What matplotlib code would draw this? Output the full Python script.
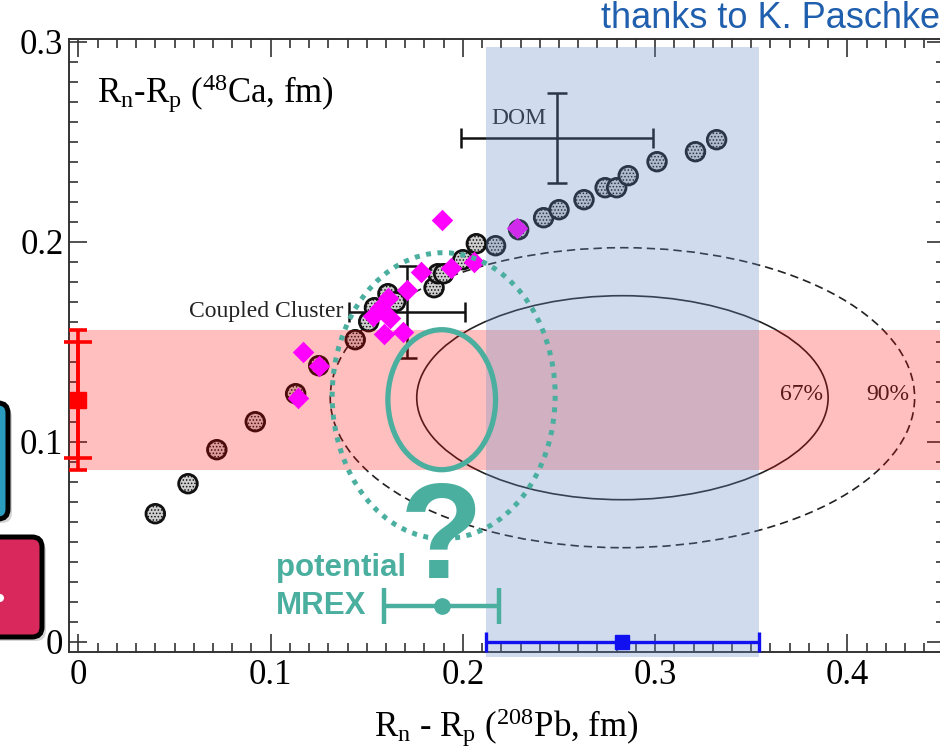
import numpy as np
import matplotlib.pyplot as plt
from matplotlib.patches import Ellipse, FancyBboxPatch, Circle
from matplotlib.ticker import MultipleLocator, FuncFormatter

plt.rcParams['font.family'] = 'Liberation Serif'
plt.rcParams['mathtext.fontset'] = 'custom'
plt.rcParams['mathtext.rm'] = 'Liberation Serif'
plt.rcParams['mathtext.it'] = 'Liberation Serif:italic'
plt.rcParams['hatch.linewidth'] = 0.7

# EDF model predictions: neutron skin of 208Pb vs 48Ca (fm)
edf_pb = [0.040, 0.057, 0.072, 0.092, 0.113, 0.125, 0.144, 0.151, 0.154, 0.161, 0.165,
          0.185, 0.187, 0.190, 0.200, 0.207, 0.217, 0.229, 0.242, 0.250, 0.263,
          0.274, 0.280, 0.286, 0.301, 0.321, 0.332]
edf_ca = [0.064, 0.079, 0.096, 0.110, 0.124, 0.138, 0.151, 0.160, 0.167, 0.174, 0.170,
          0.177, 0.184, 0.184, 0.191, 0.199, 0.198, 0.206, 0.212, 0.216, 0.221,
          0.227, 0.227, 0.233, 0.240, 0.245, 0.251]

# ab initio predictions (diamonds)
ai_pb = [0.189, 0.228, 0.206, 0.194, 0.178, 0.171, 0.161, 0.157, 0.153, 0.162,
         0.159, 0.169, 0.117, 0.125, 0.114]
ai_ca = [0.211, 0.207, 0.190, 0.187, 0.185, 0.176, 0.172, 0.167, 0.163, 0.162,
         0.154, 0.155, 0.145, 0.138, 0.122]

# measurements
prex, prex_err = 0.283, 0.071
crex, crex_err_exp, crex_err = 0.121, 0.029, 0.035
dom, dom_err = (0.249, 0.252), (0.050, 0.0225)
cc, cc_err = (0.171, 0.165), (0.030, 0.023)

# joint PREX/CREX confidence contours: centre and half axes
cont_c = (0.283, 0.122)
cont_67 = (0.107, 0.051)
cont_90 = (0.152, 0.075)

# projected MREX
mrex_pb, mrex_err, mrex_y = 0.189, 0.030, 0.018
mrex_box = (0.028, 0.035)
mrex_box2 = (0.058, 0.0715)

teal = '#4BAFA0'

fig = plt.figure(figsize=(9.4, 7.54), dpi=100)
ax = fig.add_axes([69 / 940, 1 - 652 / 754, 876 / 940, 613 / 754])
ax.set_xlim(-0.0049, 0.4508)
ax.set_ylim(-0.00515, 0.30135)

# contours
for (rx, ry), ls in [(cont_67, '-'), (cont_90, (0, (5, 3)))]:
    ax.add_patch(Ellipse(cont_c, 2 * rx, 2 * ry, fill=False, ec='#222222',
                         lw=1.2, ls=ls, zorder=1.5))
ax.text(0.376, 0.1234, '67%', fontsize=17, color='#222222', ha='center', va='center', zorder=1.5)
ax.text(0.4212, 0.1234, '90%', fontsize=17, color='#222222', ha='center', va='center', zorder=1.5)

# model points
ax.scatter(edf_pb, edf_ca, s=180, marker='o', facecolor='#cfcfcf', edgecolors='#111111',
           linewidths=2.0, hatch='.....', zorder=2)
ax.scatter(ai_pb, ai_ca, s=120, marker='D', color='#ff00ff', linewidths=0, zorder=3.5)

ax.errorbar(dom[0], dom[1], xerr=dom_err[0], yerr=dom_err[1], fmt='none', ecolor='#111111',
            elinewidth=1.8, capsize=7, capthick=1.8, zorder=2)
ax.text(0.2292, 0.2618, 'DOM', fontsize=17, ha='center', va='center', color='#222222', zorder=2)
ax.errorbar(cc[0], cc[1], xerr=cc_err[0], yerr=cc_err[1], fmt='none', ecolor='#111111',
            elinewidth=1.8, capsize=7, capthick=1.8, zorder=2)
ax.text(0.1376, cc[1], 'Coupled Cluster', fontsize=17, ha='right', va='center', color='#222222', zorder=2)

# CREX and PREX bands
ax.axhspan(crex - crex_err, crex + crex_err, color=(1.0, 0.0, 0.0), alpha=0.25, lw=0, zorder=3)
ax.axvspan(prex - prex_err, prex + prex_err, ymin=-0.008, ymax=0.987, color=(0.40, 0.557, 0.776),
           alpha=0.3, lw=0, zorder=4, clip_on=False)

ax.errorbar(0, crex, yerr=crex_err, fmt='none', ecolor='red', elinewidth=2.6, capsize=6.8,
            capthick=2.6, zorder=6, clip_on=False)
ax.errorbar(0, crex, yerr=crex_err_exp, fmt='s', ms=11, color='red', elinewidth=2.6, capsize=10,
            capthick=2.6, zorder=6, clip_on=False)
ax.errorbar(prex, 0, xerr=prex_err, fmt='s', ms=10, color='#1010f0', elinewidth=2.4, capsize=7,
            capthick=2.4, zorder=6, clip_on=False)

# MREX projection
ax.add_patch(Ellipse((mrex_pb, crex), 2 * mrex_box[0], 2 * mrex_box[1], fill=False, ec=teal,
                     lw=3.8, zorder=7))
ax.add_patch(Ellipse((mrex_pb + 0.001, crex + 0.002), 2 * mrex_box2[0], 2 * mrex_box2[1], fill=False,
                     ec=teal, lw=3.6, ls=(0, (1, 1.3)), zorder=7))
ax.errorbar(mrex_pb, mrex_y, xerr=mrex_err, fmt='o', ms=11, color=teal, elinewidth=3.2,
            capsize=13, capthick=3.2, zorder=7)
ax.text(mrex_pb, 0.0319, '?', fontsize=98, fontweight='bold', family='Liberation Sans',
        color=teal, ha='center', va='baseline', zorder=7)
ax.text(0.1028, 0.0369, 'potential', fontsize=22.5, fontweight='bold', family='Liberation Sans',
        color=teal, ha='left', va='center', zorder=7)
ax.text(0.1028, mrex_y, 'MREX', fontsize=22.5, fontweight='bold', family='Liberation Sans',
        color=teal, ha='left', va='center', zorder=7)

# axes styling
ax.xaxis.set_major_locator(MultipleLocator(0.1))
ax.xaxis.set_minor_locator(MultipleLocator(0.01))
ax.yaxis.set_major_locator(MultipleLocator(0.1))
ax.yaxis.set_minor_locator(MultipleLocator(0.01))
fmt = FuncFormatter(lambda v, p: '0' if abs(v) < 1e-9 else f'{v:.1f}')
ax.xaxis.set_major_formatter(fmt)
ax.yaxis.set_major_formatter(fmt)
ax.tick_params(which='both', direction='in', top=True, right=True, color='#333333',
               labelsize=25, width=1.2)
ax.tick_params(which='major', length=13)
ax.tick_params(which='minor', length=6.5)
ax.tick_params(axis='x', pad=5)
ax.tick_params(axis='y', pad=4)
for s in ax.spines.values():
    s.set_linewidth(1.4)
    s.set_color('#333333')

ax.text(0.0096, 0.2693, r'R$_\mathrm{n}$-R$_\mathrm{p}$ ($^{48}$Ca, fm)', fontsize=25,
        ha='left', va='baseline')
fig.text(506 / 940, 1 - 737 / 754, r'R$_\mathrm{n}$ - R$_\mathrm{p}$ ($^{208}$Pb, fm)', fontsize=25,
         ha='center', va='baseline')
fig.text(940 / 940, 1 - 18 / 754, 'thanks to K. Paschke', fontsize=26, family='Liberation Sans',
         color='#1F5FAD', ha='right', va='center')

# slide boxes cut at the left edge
H = 7.54
def box(x0, y0, x1, y1, fc):
    w, h = (x1 - x0) / 100, (y1 - y0) / 100
    fig.add_artist(FancyBboxPatch((x0 / 100 + 0.04, H - y1 / 100 - 0.04), w, h,
                                  boxstyle='round,pad=0,rounding_size=0.1',
                                  fc='#888888', ec='none', alpha=0.35,
                                  transform=fig.dpi_scale_trans))
    fig.add_artist(FancyBboxPatch((x0 / 100, H - y1 / 100), w, h,
                                  boxstyle='round,pad=0,rounding_size=0.1',
                                  fc=fc, ec='black', lw=3.6,
                                  transform=fig.dpi_scale_trans))

box(-40, 403, 8, 519, '#2A9DBF')
box(-40, 537, 42, 637, '#D9285B')
fig.add_artist(Circle((0.0, H - 5.98), 0.04, fc='white', ec='none', transform=fig.dpi_scale_trans))

fig.savefig('out.png', dpi=100)
